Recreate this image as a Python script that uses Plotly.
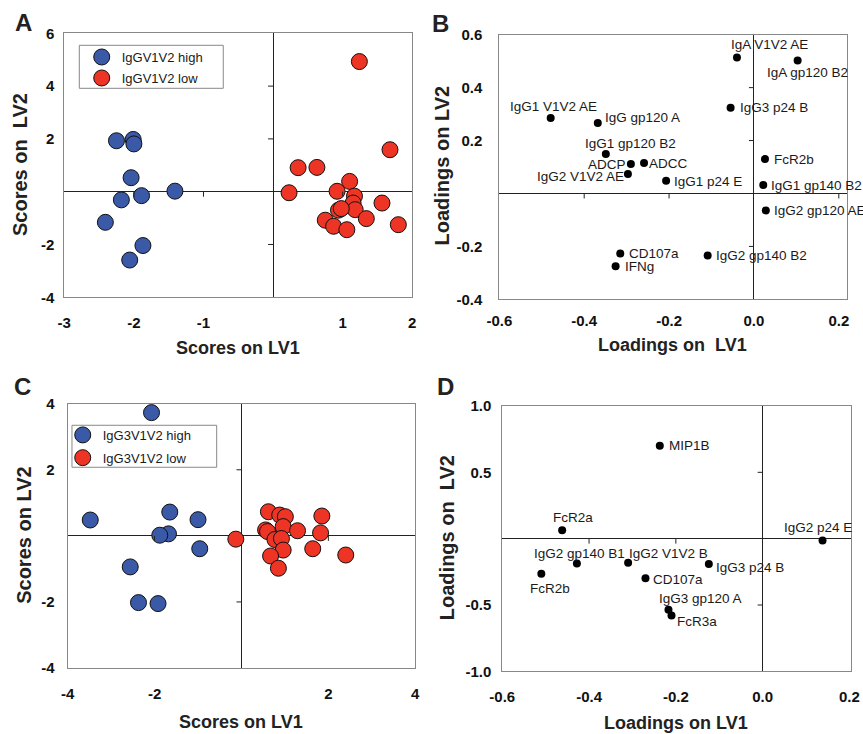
import plotly.graph_objects as go

# ---------------- data ----------------
# Panel A: scores
a_high_x = [-2.25, -2.01, -2.00, -2.04, -2.18, -1.89, -1.41, -2.41, -1.87, -2.06]
a_high_y = [1.93, 1.98, 1.81, 0.53, -0.31, -0.15, 0.02, -1.16, -2.04, -2.59]
a_low_x = [1.24, 1.68, 0.36, 0.63, 0.23, 1.10, 0.92, 1.17, 1.15, 1.18, 0.94, 0.98,
           1.565, 1.34, 0.75, 0.87, 1.06, 1.80]
a_low_y = [4.93, 1.59, 0.91, 0.92, -0.04, 0.39, 0.015, -0.17, -0.43, -0.68, -0.70, -0.64,
           -0.43, -1.02, -1.08, -1.31, -1.44, -1.25]

# Panel B: loadings
b_labels = ["IgA V1V2 AE", "IgA gp120 B2", "IgG3 p24 B", "IgG1 V1V2 AE", "IgG gp120 A",
            "IgG1 gp120 B2", "ADCP", "ADCC", "IgG2 V1V2 AE", "IgG1 p24 E", "FcR2b",
            "IgG1 gp140 B2", "IgG2 gp120 AE", "CD107a", "IFNg", "IgG2 gp140 B2"]
b_x = [-0.040, 0.103, -0.055, -0.479, -0.368, -0.349, -0.290, -0.259, -0.297, -0.207,
       0.026, 0.022, 0.028, -0.315, -0.326, -0.109]
b_y = [0.514, 0.503, 0.324, 0.285, 0.266, 0.149, 0.111, 0.115, 0.074, 0.048,
       0.130, 0.032, -0.064, -0.227, -0.275, -0.234]

# Panel C: scores
c_high_x = [-2.07, -3.48, -1.65, -1.00, -1.68, -1.88, -0.96, -2.56, -2.37, -1.92]
c_high_y = [3.73, 0.48, 0.72, 0.49, 0.06, 0.02, -0.39, -0.94, -2.02, -2.05]
c_low_x = [-0.13, 0.62, 0.88, 1.01, 1.85, 0.555, 0.60, 0.96, 1.29, 1.82, 0.77, 0.92,
           0.96, 1.64, 0.67, 0.85, 2.40]
c_low_y = [-0.10, 0.73, 0.63, 0.58, 0.60, 0.18, 0.13, 0.28, 0.155, 0.09, -0.11, -0.08,
           -0.43, -0.39, -0.61, -0.98, -0.58]

# Panel D: loadings
d_labels = ["MIP1B", "FcR2a", "IgG2 p24 E", "IgG2 gp140 B1", "IgG2 V1V2 B", "FcR2b",
            "CD107a", "IgG3 p24 B", "IgG3 gp120 A", "FcR3a"]
d_x = [-0.237, -0.462, 0.138, -0.428, -0.310, -0.510, -0.270, -0.124, -0.217, -0.210]
d_y = [0.701, 0.063, -0.013, -0.188, -0.181, -0.264, -0.299, -0.191, -0.535, -0.580]

# tick values and labels
a_xticks = [-3, -2, -1, 1, 2]
a_xtext = ["-3", "-2", "-1", "1", "2"]
a_yticks = [-4, -2, 2, 4, 6]
a_ytext = ["-4", "-2", "2", "4", "6"]
b_xticks = [-0.6, -0.4, -0.2, 0.0, 0.2]
b_xtext = ["-0.6", "-0.4", "-0.2", "0.0", "0.2"]
b_yticks = [-0.4, -0.2, 0.2, 0.4, 0.6]
b_ytext = ["-0.4", "-0.2", "0.2", "0.4", "0.6"]
c_xticks = [-4, -2, 2, 4]
c_xtext = ["-4", "-2", "2", "4"]
c_yticks = [-4, -2, 2, 4]
c_ytext = ["-4", "-2", "2", "4"]
d_xticks = [-0.6, -0.4, -0.2, 0.0, 0.2]
d_xtext = ["-0.6", "-0.4", "-0.2", "0.0", "0.2"]
d_yticks = [-1.0, -0.5, 0.5, 1.0]
d_ytext = ["-1.0", "-0.5", "0.5", "1.0"]

# minor cross ticks on the zero lines
a_zx = [-2, -1, 1]
a_zy = [-2, 2, 4]
b_zx = [-0.4, -0.2, 0.2]
b_zy = [-0.2, 0.2, 0.4]
c_zx = [-2, 2]
c_zy = [-2, 2]
d_zx = [-0.4, -0.2]
d_zy = [-0.5, 0.5]

# ---------------- style ----------------
FONT = "Liberation Sans, Arial, sans-serif"
BLUE = "#3a5aa8"
RED = "#ee3424"
TXT = "#1a1a1a"

# label placement (anchor, dx px, dy px; dy positive = downwards)
b_pos = {
    "IgA V1V2 AE": ("left", -8, -13), "IgA gp120 B2": ("left", -33, 12),
    "IgG3 p24 B": ("left", 7, 0), "IgG1 V1V2 AE": ("left", -43, -12),
    "IgG gp120 A": ("left", 5, -6), "IgG1 gp120 B2": ("left", -23, -11),
    "ADCP": ("right", -3, 0), "ADCC": ("left", 3, 0), "IgG2 V1V2 AE": ("right", -2, 3),
    "IgG1 p24 E": ("left", 6, 1), "FcR2b": ("left", 7, 0), "IgG1 gp140 B2": ("left", 6, 0),
    "IgG2 gp120 AE": ("left", 6, 0), "CD107a": ("left", 7, 0), "IFNg": ("left", 7, 0),
    "IgG2 gp140 B2": ("left", 6, 0),
}
d_pos = {
    "MIP1B": ("left", 7, 0), "FcR2a": ("left", -11, -13), "IgG2 p24 E": ("left", -41, -13),
    "IgG2 gp140 B1": ("left", -45, -10), "IgG2 V1V2 B": ("left", -1, -9),
    "FcR2b": ("left", -13, 15), "CD107a": ("left", 6, 1), "IgG3 p24 B": ("left", 5, 4),
    "IgG3 gp120 A": ("left", -11, -11), "FcR3a": ("left", 3, 6),
}

fig = go.Figure()

def score_trace(x, y, name, color, xa, ya, legend):
    return go.Scatter(x=x, y=y, mode="markers", name=name, xaxis=xa, yaxis=ya,
                      legend=legend,
                      marker=dict(size=16, color=color, line=dict(color="#111", width=1)))

fig.add_trace(score_trace(a_high_x, a_high_y, "IgGV1V2 high", BLUE, "x", "y", "legend"))
fig.add_trace(score_trace(a_low_x, a_low_y, "IgGV1V2 low", RED, "x", "y", "legend2"))
fig.add_trace(go.Scatter(x=b_x, y=b_y, mode="markers", xaxis="x2", yaxis="y2", showlegend=False,
                         marker=dict(size=8, color="#000")))
fig.add_trace(score_trace(c_high_x, c_high_y, "IgG3V1V2 high", BLUE, "x3", "y3", "legend3"))
fig.add_trace(score_trace(c_low_x, c_low_y, "IgG3V1V2 low", RED, "x3", "y3", "legend4"))
fig.add_trace(go.Scatter(x=d_x, y=d_y, mode="markers", xaxis="x4", yaxis="y4", showlegend=False,
                         marker=dict(size=8, color="#000")))

annotations = []
for labels, xs, ys, pos, xr, yr in [(b_labels, b_x, b_y, b_pos, "x2", "y2"),
                                     (d_labels, d_x, d_y, d_pos, "x4", "y4")]:
    for lab, x, y in zip(labels, xs, ys):
        anc, dx, dy = pos[lab]
        annotations.append(dict(x=x, y=y, xref=xr, yref=yr, text=lab, showarrow=False,
                                xanchor=anc, yanchor="middle", xshift=dx, yshift=-dy,
                                font=dict(family=FONT, size=13.5, color=TXT)))

# axis titles and panel letters
titles = [
    ("Scores on LV1", 0.2758, 0.5259, 0), ("Scores on  LV2", 0.0232, 0.7752, -90),
    ("Loadings on  LV1", 0.7793, 0.5300, 0), ("Loadings on LV2", 0.5118, 0.7741, -90),
    ("Scores on LV1", 0.2793, 0.0168, 0), ("Scores on LV2", 0.0270, 0.2704, -90),
    ("Loadings on LV1", 0.7831, 0.0150, 0), ("Loadings on  LV2", 0.5176, 0.2677, -90),
]
for t, x, y, ang in titles:
    annotations.append(dict(x=x, y=y, xref="paper", yref="paper", text=t, showarrow=False,
                            textangle=ang, xanchor="center", yanchor="middle",
                            font=dict(family=FONT, size=18 if ang == 0 else 20, color="#222",
                                      weight="bold")))
for t, x, y in [("A", 0.0267, 0.9693), ("B", 0.5110, 0.9680),
                ("C", 0.0261, 0.4741), ("D", 0.5162, 0.4741)]:
    annotations.append(dict(x=x, y=y, xref="paper", yref="paper", text=t, showarrow=False,
                            xanchor="center", yanchor="middle",
                            font=dict(family=FONT, size=24, color="#222", weight="bold")))

# small cross ticks on zero lines
shapes = []
for xr, yr, zx, zy in [("x", "y", a_zx, a_zy), ("x2", "y2", b_zx, b_zy),
                       ("x3", "y3", c_zx, c_zy), ("x4", "y4", d_zx, d_zy)]:
    for t in zx:
        shapes.append(dict(type="line", xref=xr, yref=yr, x0=t, x1=t, ysizemode="pixel",
                           yanchor=0, y0=0, y1=-5, line=dict(color="#222", width=1)))
    for t in zy:
        shapes.append(dict(type="line", xref=xr, yref=yr, y0=t, y1=t, xsizemode="pixel",
                           xanchor=0, x0=-5, x1=0, line=dict(color="#222", width=1)))

# legend frames
for x0, x1, y0, y1 in [(0.0919, 0.2587, 0.8797, 0.9383), (0.0834, 0.2511, 0.3634, 0.4206)]:
    shapes.append(dict(type="rect", xref="paper", yref="paper", x0=x0, x1=x1, y0=y0, y1=y1,
                       line=dict(color="#888", width=1), fillcolor="white", layer="below"))

def axis(domain, rng, tv, tt, standoff=8, anchor=None):
    return dict(domain=domain, range=rng, tickvals=tv, ticktext=tt, ticks="", showgrid=False,
                zeroline=True, zerolinecolor="#222", zerolinewidth=1,
                showline=True, mirror=True, linecolor="#888", linewidth=1,
                ticklabelstandoff=standoff, automargin=False, anchor=anchor,
                tickfont=dict(family=FONT, size=15, color="#111", weight="bold"))

def leg(x, y):
    return dict(x=x, y=y, xanchor="left", yanchor="middle", bgcolor="rgba(0,0,0,0)",
                borderwidth=0, font=dict(family=FONT, size=13, color=TXT),
                itemsizing="trace")

fig.update_layout(
    template="none",
    width=863, height=734, autosize=False,
    margin=dict(l=0, r=0, t=0, b=0, autoexpand=False),
    paper_bgcolor="white", plot_bgcolor="rgba(0,0,0,0)",
    showlegend=True,
    xaxis=axis([0.0745, 0.4777], [-3, 2], a_xticks, a_xtext, standoff=12, anchor="y"),
    yaxis=axis([0.5950, 0.9546], [-4, 6], a_yticks, a_ytext, standoff=6, anchor="x"),
    xaxis2=axis([0.5786, 0.9818], [-0.6, 0.22], b_xticks, b_xtext, standoff=8, anchor="y2"),
    yaxis2=axis([0.5922, 0.9527], [-0.4, 0.6], b_yticks, b_ytext, standoff=13, anchor="x2"),
    xaxis3=axis([0.0784, 0.4812], [-4, 4], c_xticks, c_xtext, standoff=12, anchor="y3"),
    yaxis3=axis([0.0899, 0.4500], [-4, 4], c_yticks, c_ytext, standoff=9, anchor="x3"),
    xaxis4=axis([0.5820, 0.9858], [-0.6, 0.203], d_xticks, d_xtext, standoff=12, anchor="y4"),
    yaxis4=axis([0.0854, 0.4469], [-1.0, 1.0], d_yticks, d_ytext, standoff=7, anchor="x4"),
    legend=leg(0.0947, 0.9223),
    legend2=leg(0.0947, 0.8937),
    legend3=leg(0.0727, 0.4074),
    legend4=leg(0.0727, 0.3764),
    annotations=annotations,
    shapes=shapes,
)

fig.write_html("out.html", config={"displayModeBar": False},
               post_script="document.body.style.margin='0';"
                           "document.body.style.overflow='hidden';")
